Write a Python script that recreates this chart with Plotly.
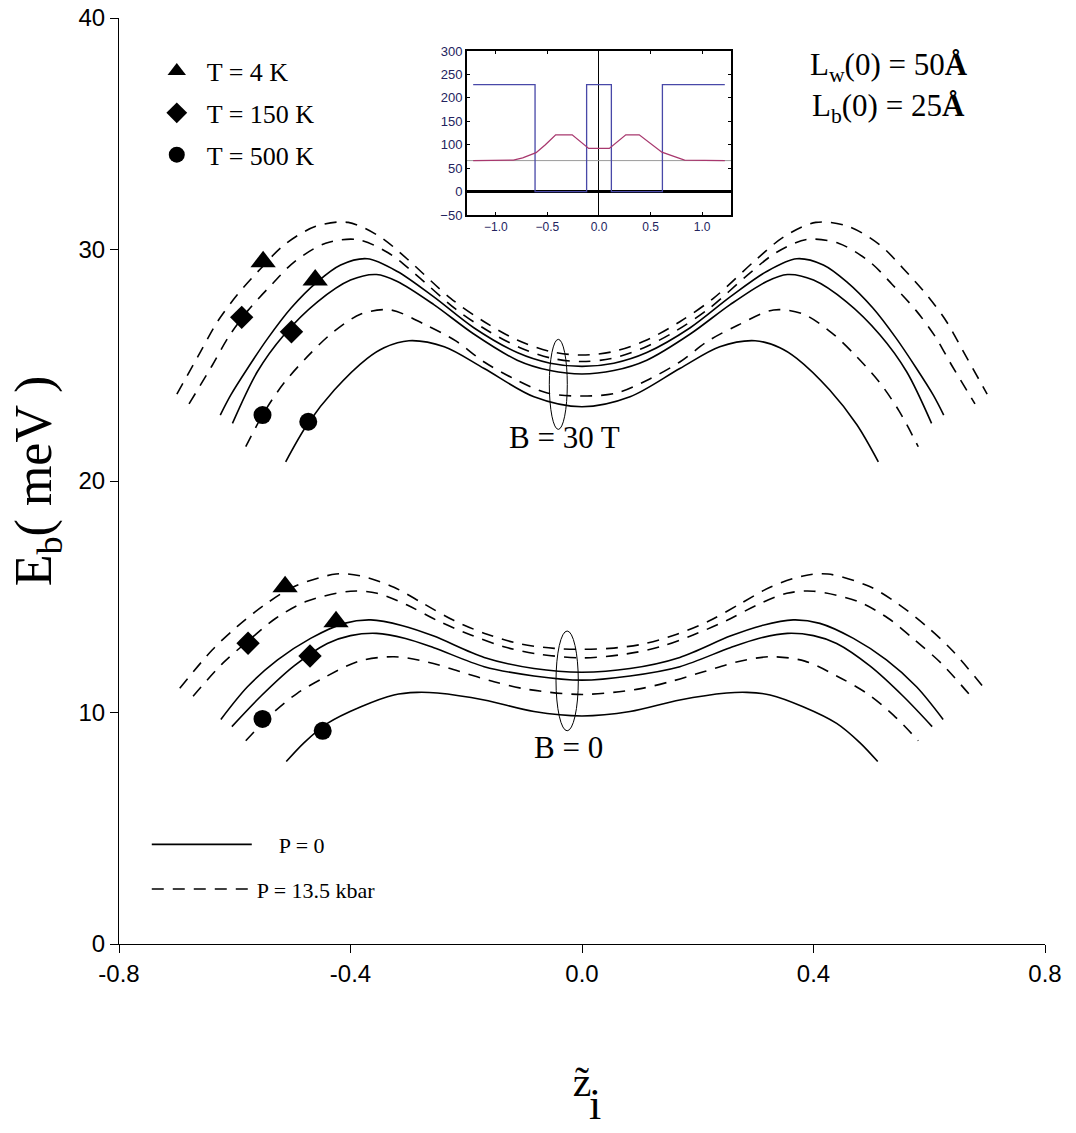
import plotly.graph_objects as go

# ---------------- main panel data: E_b (meV) vs reduced impurity position ----------------
# B = 30 T, P = 0
b30_p0_t4_x = [-0.625, -0.607, -0.578, -0.543, -0.503, -0.457, -0.417, -0.371, -0.319, -0.256, -0.187, -0.112, -0.055, 0.0, 0.055, 0.112, 0.187, 0.256, 0.319, 0.371, 0.417, 0.457, 0.503, 0.543, 0.578, 0.607, 0.625]
b30_p0_t4_y = [22.85, 23.71, 24.86, 26.16, 27.46, 28.61, 29.33, 29.60, 29.05, 27.95, 26.62, 25.55, 25.09, 24.95, 25.09, 25.55, 26.62, 27.95, 29.05, 29.60, 29.33, 28.61, 27.46, 26.16, 24.86, 23.71, 22.85]
b30_p0_t150_x = [-0.604, -0.561, -0.515, -0.457, -0.400, -0.355, -0.319, -0.256, -0.187, -0.112, -0.055, 0.0, 0.055, 0.112, 0.187, 0.256, 0.319, 0.355, 0.400, 0.457, 0.515, 0.561, 0.604]
b30_p0_t150_y = [22.49, 24.72, 26.31, 27.74, 28.68, 28.92, 28.62, 27.62, 26.35, 25.22, 24.77, 24.62, 24.77, 25.22, 26.35, 27.62, 28.62, 28.92, 28.68, 27.74, 26.31, 24.72, 22.49]
b30_p0_t500_x = [-0.512, -0.475, -0.428, -0.371, -0.342, -0.299, -0.238, -0.169, -0.083, 0.0, 0.083, 0.169, 0.238, 0.299, 0.342, 0.371, 0.428, 0.475, 0.512]
b30_p0_t500_y = [20.83, 22.43, 23.93, 25.30, 25.76, 26.06, 25.80, 24.86, 23.64, 23.21, 23.64, 24.86, 25.80, 26.06, 25.76, 25.30, 23.93, 22.43, 20.83]
# B = 30 T, P = 13.5 kbar
b30_p135_t4_x = [-0.700, -0.659, -0.630, -0.596, -0.555, -0.515, -0.460, -0.404, -0.349, -0.302, -0.227, -0.169, -0.112, -0.054, 0.0, 0.054, 0.112, 0.169, 0.227, 0.302, 0.349, 0.404, 0.460, 0.515, 0.555, 0.596, 0.630, 0.659, 0.700]
b30_p135_t4_y = [23.75, 25.59, 26.88, 28.03, 29.18, 30.19, 31.00, 31.17, 30.55, 29.59, 27.89, 26.88, 26.09, 25.59, 25.44, 25.59, 26.09, 26.88, 27.89, 29.59, 30.55, 31.17, 31.00, 30.19, 29.18, 28.03, 26.88, 25.59, 23.75]
b30_p135_t150_x = [-0.679, -0.639, -0.610, -0.577, -0.536, -0.497, -0.443, -0.388, -0.335, -0.290, -0.218, -0.162, -0.107, -0.052, 0.0, 0.052, 0.107, 0.162, 0.218, 0.290, 0.335, 0.388, 0.443, 0.497, 0.536, 0.577, 0.610, 0.639, 0.679]
b30_p135_t150_y = [23.33, 24.99, 26.25, 27.37, 28.49, 29.47, 30.27, 30.43, 29.86, 28.98, 27.42, 26.48, 25.76, 25.30, 25.16, 25.30, 25.76, 26.48, 27.42, 28.98, 29.86, 30.43, 30.27, 29.47, 28.49, 27.37, 26.25, 24.99, 23.33]
b30_p135_t500_x = [-0.581, -0.548, -0.515, -0.475, -0.432, -0.382, -0.331, -0.270, -0.218, -0.169, -0.117, -0.060, 0.0, 0.060, 0.117, 0.169, 0.218, 0.270, 0.331, 0.382, 0.432, 0.475, 0.515, 0.548, 0.581]
b30_p135_t500_y = [21.48, 23.02, 24.23, 25.36, 26.39, 27.21, 27.39, 26.74, 26.05, 25.14, 24.41, 23.80, 23.67, 23.80, 24.41, 25.14, 26.05, 26.74, 27.39, 27.21, 26.39, 25.36, 24.23, 23.02, 21.48]
# B = 0, P = 0
b0_p0_t4_x = [-0.624, -0.578, -0.526, -0.469, -0.411, -0.365, -0.310, -0.256, -0.169, -0.083, 0.0, 0.083, 0.169, 0.256, 0.310, 0.365, 0.411, 0.469, 0.526, 0.578, 0.624]
b0_p0_t4_y = [9.70, 11.11, 12.27, 13.20, 13.85, 14.00, 13.75, 13.30, 12.38, 11.90, 11.74, 11.90, 12.38, 13.30, 13.75, 14.00, 13.85, 13.20, 12.27, 11.11, 9.70]
b0_p0_t150_x = [-0.605, -0.555, -0.498, -0.440, -0.400, -0.355, -0.305, -0.256, -0.169, -0.083, 0.0, 0.083, 0.169, 0.256, 0.305, 0.355, 0.400, 0.440, 0.498, 0.555, 0.605]
b0_p0_t150_y = [9.39, 10.70, 12.00, 12.98, 13.32, 13.42, 13.20, 12.80, 11.98, 11.58, 11.40, 11.58, 11.98, 12.80, 13.20, 13.42, 13.32, 12.98, 12.00, 10.70, 9.39]
b0_p0_t500_x = [-0.511, -0.480, -0.440, -0.382, -0.325, -0.285, -0.250, -0.169, -0.083, 0.0, 0.083, 0.169, 0.250, 0.285, 0.325, 0.382, 0.440, 0.480, 0.511]
b0_p0_t500_y = [7.88, 8.70, 9.53, 10.25, 10.76, 10.87, 10.84, 10.54, 10.04, 9.85, 10.04, 10.54, 10.84, 10.87, 10.76, 10.25, 9.53, 8.70, 7.88]
# B = 0, P = 13.5 kbar
b0_p135_t4_x = [-0.695, -0.639, -0.596, -0.549, -0.498, -0.425, -0.382, -0.325, -0.273, -0.221, -0.164, -0.106, -0.048, 0.0, 0.048, 0.106, 0.164, 0.221, 0.273, 0.325, 0.382, 0.425, 0.498, 0.549, 0.596, 0.639, 0.695]
b0_p135_t4_y = [11.05, 12.70, 13.71, 14.64, 15.43, 15.98, 15.90, 15.41, 14.69, 13.97, 13.38, 12.96, 12.77, 12.73, 12.77, 12.96, 13.38, 13.97, 14.69, 15.41, 15.90, 15.98, 15.43, 14.64, 13.71, 12.70, 11.05]
b0_p135_t150_x = [-0.672, -0.621, -0.575, -0.529, -0.477, -0.400, -0.354, -0.302, -0.250, -0.192, -0.135, -0.077, 0.0, 0.077, 0.135, 0.192, 0.250, 0.302, 0.354, 0.400, 0.477, 0.529, 0.575, 0.621, 0.672]
b0_p135_t150_y = [10.70, 12.12, 13.13, 14.07, 14.79, 15.24, 15.15, 14.64, 13.97, 13.35, 12.84, 12.53, 12.36, 12.53, 12.84, 13.35, 13.97, 14.64, 15.15, 15.24, 14.79, 14.07, 13.13, 12.12, 10.70]
b0_p135_t500_x = [-0.581, -0.538, -0.492, -0.440, -0.385, -0.325, -0.267, -0.210, -0.152, -0.094, 0.0, 0.094, 0.152, 0.210, 0.267, 0.325, 0.385, 0.440, 0.492, 0.538, 0.581]
b0_p135_t500_y = [8.78, 9.89, 10.83, 11.58, 12.22, 12.41, 12.18, 11.76, 11.33, 11.00, 10.78, 11.00, 11.33, 11.76, 12.18, 12.41, 12.22, 11.58, 10.83, 9.89, 8.78]

# temperature markers
t4_marker_x = [-0.551, -0.461, -0.513, -0.425]
t4_marker_y = [29.47, 28.68, 15.43, 13.92]
t150_marker_x = [-0.588, -0.502, -0.577, -0.470]
t150_marker_y = [27.07, 26.45, 12.99, 12.44]
t500_marker_x = [-0.552, -0.473, -0.552, -0.448]
t500_marker_y = [22.85, 22.56, 9.72, 9.21]

# ellipses marking the two field groups  [x0, x1, y0, y1]
ellipse_b30 = [-0.0565, -0.0254, 22.23, 26.12]
ellipse_b0 = [-0.0449, -0.0064, 9.21, 13.52]
label_b30 = [-0.031, 21.86]
label_b0 = [-0.024, 8.47]

x_tick_vals = [-0.8, -0.4, 0.0, 0.4, 0.8]
x_tick_text = ["-0.8", "-0.4", "0.0", "0.4", "0.8"]
y_tick_vals = [0, 10, 20, 30, 40]

# ---------------- inset data: potential profile ----------------
inset_barrier_x = [-1.22, -0.62, -0.62, -0.12, -0.12, 0.12, 0.12, 0.615, 0.615, 1.22]
inset_barrier_y = [228, 228, 0, 0, 228, 228, 0, 0, 228, 228]
inset_energy_x = [-1.22, -0.83, -0.74, -0.61, -0.52, -0.42, -0.26, -0.10, 0.10, 0.26, 0.39, 0.52, 0.61, 0.74, 0.83, 1.22]
inset_energy_y = [66, 67, 72, 83, 100, 121, 121, 92, 92, 121, 121, 100, 84, 74, 67, 66]
inset_level_x = [-1.28, 1.28]
inset_level_y = [66, 66]
inset_x_ticks = [-1.0, -0.5, 0.0, 0.5, 1.0]
inset_y_ticks = [-50, 0, 50, 100, 150, 200, 250, 300]

SERIF = "Liberation Serif"
SANS = "Liberation Sans"

fig = go.Figure()

curves = [
    (b30_p0_t4_x, b30_p0_t4_y, "solid"), (b30_p0_t150_x, b30_p0_t150_y, "solid"), (b30_p0_t500_x, b30_p0_t500_y, "solid"),
    (b30_p135_t4_x, b30_p135_t4_y, "dash"), (b30_p135_t150_x, b30_p135_t150_y, "dash"), (b30_p135_t500_x, b30_p135_t500_y, "dash"),
    (b0_p0_t4_x, b0_p0_t4_y, "solid"), (b0_p0_t150_x, b0_p0_t150_y, "solid"), (b0_p0_t500_x, b0_p0_t500_y, "solid"),
    (b0_p135_t4_x, b0_p135_t4_y, "dash"), (b0_p135_t150_x, b0_p135_t150_y, "dash"), (b0_p135_t500_x, b0_p135_t500_y, "dash"),
]
shown = set()
for cx, cy, d in curves:
    show = d not in shown
    shown.add(d)
    fig.add_trace(go.Scatter(
        x=cx, y=cy, mode="lines",
        line=dict(color="black", width=1.6, dash=("solid" if d == "solid" else "12px,9px"),
                  shape="spline", smoothing=0.9),
        name=("\u00a0\u00a0\u00a0\u00a0P = 0" if d == "solid" else "P = 13.5 kbar"),
        legendgroup=d, showlegend=show, legend="legend2", hoverinfo="skip"))

for mx, my, sym, sz, nm, grp in [
    (t4_marker_x, t4_marker_y, "triangle-up", 22, "T = 4 K", "g1"),
    (t150_marker_x, t150_marker_y, "diamond", 18, "T = 150 K", "g2"),
    (t500_marker_x, t500_marker_y, "circle", 18, "T = 500 K", "g3"),
]:
    fig.add_trace(go.Scatter(x=mx, y=my, mode="markers", name=nm, legendgroup=grp,
                             marker=dict(symbol=sym, size=sz, color="black"),
                             legend="legend"))

# inset traces
fig.add_trace(go.Scatter(x=inset_level_x, y=inset_level_y, mode="lines", xaxis="x2", yaxis="y2",
                         line=dict(color="#9a9a9a", width=1), showlegend=False))
fig.add_trace(go.Scatter(x=inset_barrier_x, y=inset_barrier_y, mode="lines", xaxis="x2", yaxis="y2",
                         line=dict(color="#4848a8", width=1.3), showlegend=False))
fig.add_trace(go.Scatter(x=inset_energy_x, y=inset_energy_y, mode="lines", xaxis="x2", yaxis="y2",
                         line=dict(color="#a8386e", width=1.3), showlegend=False))

shapes = []
for e in (ellipse_b30, ellipse_b0):
    shapes.append(dict(type="circle", xref="x", yref="y", x0=e[0], x1=e[1], y0=e[2], y1=e[3],
                       line=dict(color="black", width=1)))

annotations = [
    dict(x=label_b30[0], y=label_b30[1], xref="x", yref="y", text="B = 30 T", showarrow=False,
         xanchor="center", yanchor="middle", font=dict(family=SERIF, size=31, color="black")),
    dict(x=label_b0[0], y=label_b0[1], xref="x", yref="y", text="B = 0", showarrow=False,
         xanchor="center", yanchor="middle", font=dict(family=SERIF, size=31, color="black")),
    dict(x=0.8315, y=0.947, xref="paper", yref="paper", showarrow=False, xanchor="center", yanchor="middle",
         text="L<sub>w</sub>(0) = 50<b>Å</b>", font=dict(family=SERIF, size=31, color="black")),
    dict(x=0.8315, y=0.903, xref="paper", yref="paper", showarrow=False, xanchor="center", yanchor="middle",
         text="L<sub>b</sub>(0) = 25<b>Å</b>", font=dict(family=SERIF, size=31, color="black")),
    # large, low-set subscript of the x-axis symbol
    dict(x=0.514, y=-0.2015, xref="paper", yref="paper", showarrow=False, xanchor="center", yanchor="bottom",
         text="i", font=dict(family=SERIF, size=44, color="black")),
]

fig.update_layout(
    width=1076, height=1133,
    margin=dict(l=119, r=31, t=18, b=189),
    paper_bgcolor="white", plot_bgcolor="white",
    shapes=shapes, annotations=annotations,
    xaxis=dict(range=[-0.8, 0.8], tickvals=x_tick_vals, ticktext=x_tick_text, automargin=False,
               showline=True, linecolor="black", linewidth=1, ticks="outside", ticklen=8,
               tickcolor="black", showgrid=False, zeroline=False,
               tickfont=dict(family=SANS, size=24, color="black"),
               title=dict(text="z\u0303", font=dict(family=SERIF, size=42, color="black"), standoff=80)),
    yaxis=dict(range=[0, 40], tickvals=y_tick_vals, automargin=False,
               showline=True, linecolor="black", linewidth=1, ticks="outside", ticklen=8,
               tickcolor="black", showgrid=False, zeroline=False,
               tickfont=dict(family=SANS, size=24, color="black"),
               title=dict(text="E<sub>b</sub>( meV )\u00a0", font=dict(family=SERIF, size=52, color="black"),
                          standoff=10)),
    xaxis2=dict(domain=[0.3758, 0.6609], anchor="y2", range=[-1.28, 1.28], tickvals=inset_x_ticks,
                tickformat=".1f", showline=True, mirror="ticks", linecolor="black", linewidth=2,
                ticks="inside", ticklen=3, tickcolor="black", showgrid=False, automargin=False,
                zeroline=True, zerolinecolor="black", zerolinewidth=1,
                tickfont=dict(family=SANS, size=12, color="#23235e")),
    yaxis2=dict(domain=[0.7873, 0.9644], anchor="x2", range=[-50, 300], tickvals=inset_y_ticks,
                showline=True, mirror="ticks", linecolor="black", linewidth=2, automargin=False,
                ticks="inside", ticklen=3, tickcolor="black", showgrid=False,
                zeroline=True, zerolinecolor="black", zerolinewidth=2.5,
                tickfont=dict(family=SANS, size=13, color="#23235e")),
    legend=dict(x=0.03, y=0.968, xanchor="left", yanchor="top", bgcolor="rgba(0,0,0,0)",
                font=dict(family=SERIF, size=26, color="black"), tracegroupgap=5,
                itemwidth=50),
    legend2=dict(x=0.03, y=0.13, xanchor="left", yanchor="top", bgcolor="rgba(0,0,0,0)",
                 font=dict(family=SERIF, size=22, color="black"), itemwidth=100, tracegroupgap=13),
)

# remove the browser's default 8px body margin so the figure sits at the page origin
fig.write_html("out.html", config={"displayModeBar": False},
               post_script="document.body.style.margin='0px';")
